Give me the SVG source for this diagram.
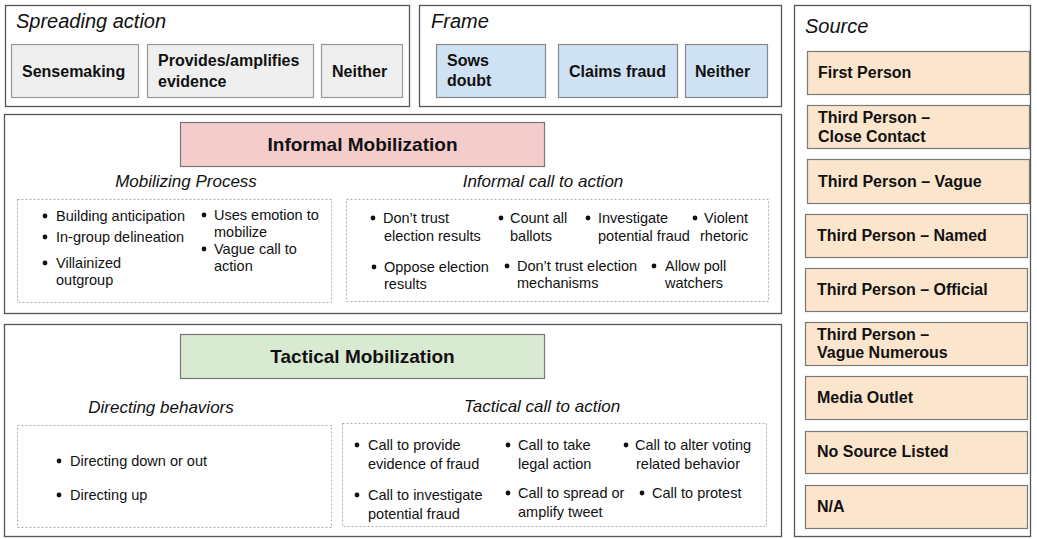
<svg xmlns="http://www.w3.org/2000/svg" width="1037" height="539" viewBox="0 0 1037 539">
<style>
.outer{fill:#fff;stroke:#555;stroke-width:1.3}
.gray{fill:#efefef;stroke:#999;stroke-width:1.2}
.blue{fill:#cfe2f3;stroke:#888;stroke-width:1.2}
.peach{fill:#fce5cd;stroke:#7a7a7a;stroke-width:1.2}
.red{fill:#f4cccc;stroke:#777;stroke-width:1.2}
.green{fill:#d9ead3;stroke:#777;stroke-width:1.2}
.dot{fill:none;stroke:#aaa;stroke-width:1;stroke-dasharray:2 2}
text{font-family:"Liberation Sans",Arial,sans-serif;fill:#111}
.title{font-size:20px;font-style:italic}
.sub{font-size:17px;font-style:italic;text-anchor:middle}
.lbl{font-size:16px;font-weight:bold}
.hdr{font-size:19px;font-weight:bold;text-anchor:middle}
.item{font-size:14.5px}
.b{fill:#111}
</style>
<rect width="1037" height="539" fill="#fff"/>

<g id="spreading-action">
<rect class="outer" x="5.5" y="5.5" width="404" height="101"/>
<text class="title" x="16" y="28">Spreading action</text>
<g id="sensemaking"><rect class="gray" x="11.5" y="44.5" width="127" height="53"/><text class="lbl" x="22" y="77">Sensemaking</text></g>
<g id="provides-evidence"><rect class="gray" x="147.5" y="44.5" width="166" height="53"/><text class="lbl" x="158" y="66">Provides/amplifies</text><text class="lbl" x="158" y="87">evidence</text></g>
<g id="spreading-neither"><rect class="gray" x="321.5" y="44.5" width="81" height="53"/><text class="lbl" x="332" y="77">Neither</text></g>
</g>

<g id="frame">
<rect class="outer" x="419.5" y="5.5" width="362" height="101"/>
<text class="title" x="431" y="28">Frame</text>
<g id="sows-doubt"><rect class="blue" x="436.5" y="44.5" width="109" height="53"/><text class="lbl" x="447" y="66">Sows</text><text class="lbl" x="447" y="86">doubt</text></g>
<g id="claims-fraud"><rect class="blue" x="558.5" y="44.5" width="119" height="53"/><text class="lbl" x="569" y="77">Claims fraud</text></g>
<g id="frame-neither"><rect class="blue" x="685.5" y="44.5" width="82" height="53"/><text class="lbl" x="695" y="77">Neither</text></g>
</g>

<g id="source">
<rect class="outer" x="794.5" y="5.5" width="236" height="531"/>
<text class="title" x="805" y="33">Source</text>
<g id="first-person"><rect class="peach" x="807.5" y="51.5" width="222" height="43"/><text class="lbl" x="818" y="78">First Person</text></g>
<g id="tp-close"><rect class="peach" x="807.5" y="105.5" width="222" height="43"/><text class="lbl" x="818" y="123">Third Person –</text><text class="lbl" x="818" y="142">Close Contact</text></g>
<g id="tp-vague"><rect class="peach" x="807.5" y="159.5" width="222" height="44"/><text class="lbl" x="818" y="187">Third Person – Vague</text></g>
<g id="tp-named"><rect class="peach" x="805.5" y="214.5" width="222" height="43"/><text class="lbl" x="817" y="241">Third Person – Named</text></g>
<g id="tp-official"><rect class="peach" x="805.5" y="268.5" width="222" height="43"/><text class="lbl" x="817" y="295">Third Person – Official</text></g>
<g id="tp-numerous"><rect class="peach" x="805.5" y="322.5" width="222" height="43"/><text class="lbl" x="817" y="340">Third Person –</text><text class="lbl" x="817" y="358">Vague Numerous</text></g>
<g id="media-outlet"><rect class="peach" x="805.5" y="376.5" width="222" height="43"/><text class="lbl" x="817" y="403">Media Outlet</text></g>
<g id="no-source"><rect class="peach" x="805.5" y="431.5" width="222" height="42"/><text class="lbl" x="817" y="457">No Source Listed</text></g>
<g id="na"><rect class="peach" x="805.5" y="485.5" width="222" height="43"/><text class="lbl" x="817" y="512">N/A</text></g>
</g>

<g id="informal-mobilization">
<rect class="outer" x="4.5" y="114.5" width="777" height="199"/>
<g id="informal-header"><rect class="red" x="180.5" y="122.5" width="364" height="44"/><text class="hdr" x="362.5" y="151">Informal Mobilization</text></g>
<g id="mobilizing-process">
<text class="sub" x="186" y="187">Mobilizing Process</text>
<rect class="dot" x="17.5" y="199.5" width="314" height="103"/>
<circle class="b" cx="45" cy="216" r="2.4"/><text class="item" x="56" y="221">Building anticipation</text>
<circle class="b" cx="45" cy="237" r="2.4"/><text class="item" x="56" y="242">In-group delineation</text>
<circle class="b" cx="45" cy="263" r="2.4"/><text class="item" x="56" y="268">Villainized</text><text class="item" x="56" y="285">outgroup</text>
<circle class="b" cx="204" cy="215" r="2.4"/><text class="item" x="214" y="220">Uses emotion to</text><text class="item" x="214" y="237">mobilize</text>
<circle class="b" cx="204" cy="249" r="2.4"/><text class="item" x="214" y="254">Vague call to</text><text class="item" x="214" y="271">action</text>
</g>
<g id="informal-call">
<text class="sub" x="543" y="187">Informal call to action</text>
<rect class="dot" x="346.5" y="199.5" width="422" height="102"/>
<circle class="b" cx="373" cy="218" r="2.4"/><text class="item" x="383" y="223">Don’t trust</text><text class="item" x="384" y="241">election results</text>
<circle class="b" cx="501" cy="218" r="2.4"/><text class="item" x="510" y="223">Count all</text><text class="item" x="510" y="241">ballots</text>
<circle class="b" cx="588" cy="218" r="2.4"/><text class="item" x="598" y="223">Investigate</text><text class="item" x="598" y="241">potential fraud</text>
<circle class="b" cx="695" cy="218" r="2.4"/><text class="item" x="704" y="223">Violent</text><text class="item" x="700" y="241">rhetoric</text>
<circle class="b" cx="374" cy="267" r="2.4"/><text class="item" x="384" y="272">Oppose election</text><text class="item" x="384" y="289">results</text>
<circle class="b" cx="507" cy="266" r="2.4"/><text class="item" x="517" y="271">Don’t trust election</text><text class="item" x="517" y="288">mechanisms</text>
<circle class="b" cx="654" cy="266" r="2.4"/><text class="item" x="665" y="271">Allow poll</text><text class="item" x="665" y="288">watchers</text>
</g>
</g>

<g id="tactical-mobilization">
<rect class="outer" x="4.5" y="324.5" width="777" height="212"/>
<g id="tactical-header"><rect class="green" x="180.5" y="334.5" width="364" height="44"/><text class="hdr" x="362.5" y="363">Tactical Mobilization</text></g>
<g id="directing-behaviors">
<text class="sub" x="161" y="413">Directing behaviors</text>
<rect class="dot" x="17.5" y="425.5" width="314" height="102"/>
<circle class="b" cx="59" cy="461" r="2.4"/><text class="item" x="70" y="466">Directing down or out</text>
<circle class="b" cx="59" cy="495" r="2.4"/><text class="item" x="70" y="500">Directing up</text>
</g>
<g id="tactical-call">
<text class="sub" x="542" y="412">Tactical call to action</text>
<rect class="dot" x="342.5" y="423.5" width="424" height="103"/>
<circle class="b" cx="357" cy="445" r="2.4"/><text class="item" x="368" y="450">Call to provide</text><text class="item" x="368" y="469">evidence of fraud</text>
<circle class="b" cx="508" cy="445" r="2.4"/><text class="item" x="518" y="450">Call to take</text><text class="item" x="518" y="469">legal action</text>
<circle class="b" cx="626" cy="445" r="2.4"/><text class="item" x="635" y="450">Call to alter voting</text><text class="item" x="636" y="469">related behavior</text>
<circle class="b" cx="357" cy="495" r="2.4"/><text class="item" x="368" y="500">Call to investigate</text><text class="item" x="368" y="519">potential fraud</text>
<circle class="b" cx="508" cy="493" r="2.4"/><text class="item" x="518" y="498">Call to spread or</text><text class="item" x="518" y="517">amplify tweet</text>
<circle class="b" cx="642" cy="493" r="2.4"/><text class="item" x="652" y="498">Call to protest</text>
</g>
</g>

<g id="connectors"/>
</svg>
